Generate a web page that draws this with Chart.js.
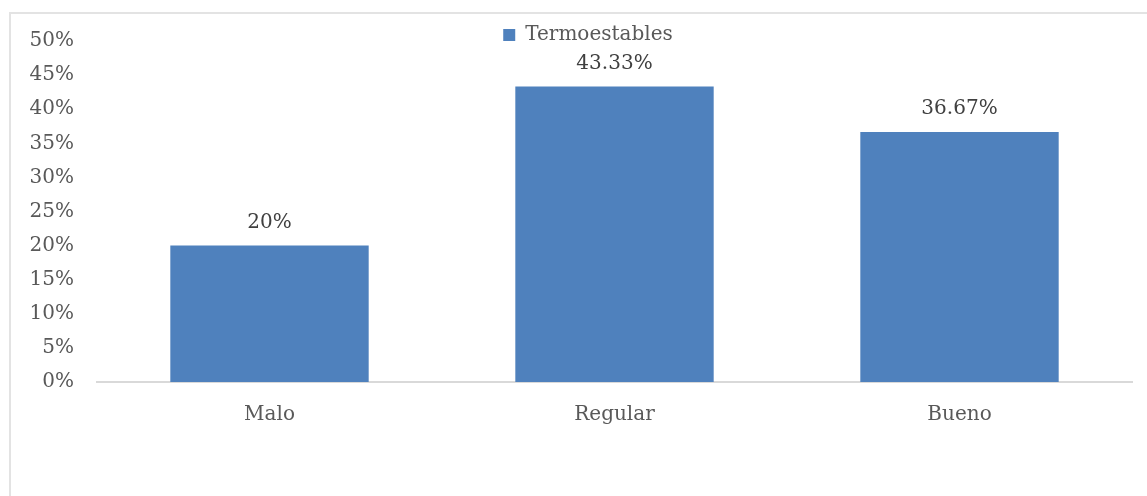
<!DOCTYPE html>
<html>
<head>
<meta charset="utf-8">
<style>
  html, body { margin: 0; padding: 0; background: #ffffff; }
  #wrap { position: relative; width: 1147px; height: 496px; }
  #frame { position: absolute; left: 9px; top: 12px; width: 1160px; height: 500px; border-left: 2px solid #e3e3e3; border-top: 2px solid #e3e3e3; box-sizing: border-box; }
  canvas { position: absolute; left: 0; top: 0; }
</style>
<script src="https://cdn.jsdelivr.net/npm/chart.js@4.4.1/dist/chart.umd.min.js"></script>
</head>
<body>
<div id="wrap">
  <div id="frame"></div>
  <canvas id="c" width="1147" height="496"></canvas>
</div>
<script>
const categories = ['Malo', 'Regular', 'Bueno'];
const seriesName = 'Termoestables';
const values = [20, 43.33, 36.67];
const valueLabels = ['20%', '43.33%', '36.67%'];
const yTicks = [0, 5, 10, 15, 20, 25, 30, 35, 40, 45, 50];

const FONT = "'DejaVu Serif', serif";
const FS = 20;

const dataLabels = {
  id: 'dataLabels',
  afterLayout(chart) {
    // nudge the legend block to the right, as in the reference
    if (chart.legend) { chart.legend.left += 34; }
  },
  afterDatasetsDraw(chart) {
    const ctx = chart.ctx;
    const meta = chart.getDatasetMeta(0);
    ctx.save();
    ctx.font = FS + "px " + FONT;
    ctx.fillStyle = '#404040';
    ctx.textAlign = 'center';
    ctx.textBaseline = 'middle';
    meta.data.forEach((bar, i) => {
      ctx.fillText(valueLabels[i], bar.x, bar.y - 23);
    });
    ctx.restore();
  }
};

new Chart(document.getElementById('c'), {
  type: 'bar',
  data: {
    labels: categories,
    datasets: [{
      label: seriesName,
      data: values,
      backgroundColor: '#4f81bd',
      borderWidth: 0,
      categoryPercentage: 1,
      barPercentage: 0.575
    }]
  },
  options: {
    responsive: false,
    animation: false,
    devicePixelRatio: 1,
    layout: { padding: { top: 15, left: 10, right: 15, bottom: 66 } },
    plugins: {
      legend: {
        display: true,
        position: 'top',
        maxHeight: 26,
        labels: {
          boxWidth: 12,
          boxHeight: 12,
          padding: 10,
          color: '#595959',
          font: { family: FONT, size: FS }
        }
      },
      tooltip: { enabled: false }
    },
    scales: {
      x: {
        grid: { display: false, drawTicks: false },
        border: { display: true, color: '#d9d9d9', width: 2 },
        ticks: { color: '#595959', font: { family: FONT, size: FS }, padding: 21 },
        afterFit(scale) { scale.height = 48; }
      },
      y: {
        min: 0,
        max: 50,
        grid: { display: false, drawTicks: false },
        border: { display: false },
        afterBuildTicks(scale) { scale.ticks = yTicks.map(v => ({ value: v })); },
        ticks: {
          color: '#595959',
          font: { family: FONT, size: FS },
          padding: 23,
          callback: (v) => v + '%'
        },
        afterFit(scale) { scale.width = 87; }
      }
    }
  },
  plugins: [dataLabels]
});
</script>
</body>
</html>
